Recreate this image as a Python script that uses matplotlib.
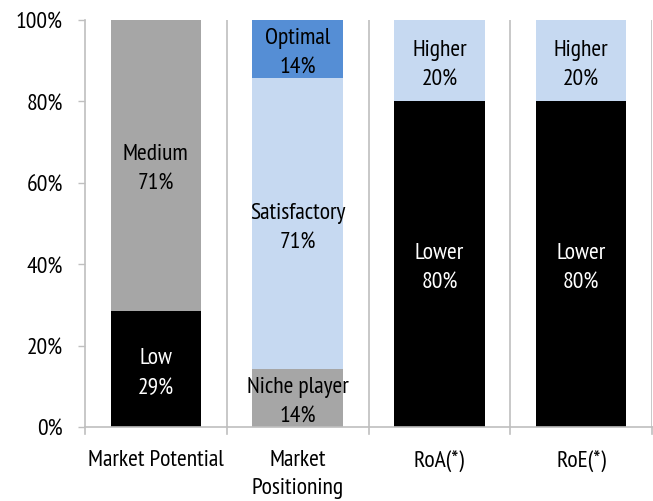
import matplotlib
matplotlib.use("Agg")
import matplotlib.pyplot as plt

plt.rcParams['font.family'] = ["PT Sans Narrow", "DejaVu Sans"]

categories = ["Market Potential", "Market\nPositioning", "RoA(*)", "RoE(*)"]
# segments bottom-to-top per category
seg_labels = [["Low", "Medium"],
              ["Niche player", "Satisfactory", "Optimal"],
              ["Lower", "Higher"],
              ["Lower", "Higher"]]
seg_values = [[28.6, 71.4],
              [14.3, 71.4, 14.3],
              [80, 20],
              [80, 20]]
seg_pct = [["29%", "71%"], ["14%", "71%", "14%"], ["80%", "20%"], ["80%", "20%"]]
colors = {"Low": "#000000", "Medium": "#A6A6A6", "Niche player": "#A6A6A6",
          "Satisfactory": "#C6D9F1", "Optimal": "#558ED5",
          "Lower": "#000000", "Higher": "#C6D9F1"}
text_col = {"Low": "white", "Lower": "white"}

FS = 17
fig = plt.figure(figsize=(6.53, 5.02), dpi=100)
ax = fig.add_axes([85/653, 1-428/502, (652-85)/653, (428-21)/502])

for i, (labs, vals, pcts) in enumerate(zip(seg_labels, seg_values, seg_pct)):
    bottom = 0
    for lab, v, p in zip(labs, vals, pcts):
        ax.bar(i, v, bottom=bottom, width=0.64, color=colors[lab], linewidth=0, zorder=2)
        ax.annotate(f"{lab}\n{p}", (i, bottom + v/2), xytext=(0, -2.5),
                    textcoords="offset points", ha="center", va="center",
                    fontsize=FS, color=text_col.get(lab, "black"),
                    linespacing=1.55, zorder=3)
        bottom += v

ax.set_xlim(-0.5, 3.5)
ax.set_ylim(0, 100)
ax.set_yticks([0, 20, 40, 60, 80, 100])
ax.set_yticklabels([f"{t}%" for t in [0, 20, 40, 60, 80, 100]], fontsize=FS)
ax.set_xticks(range(4))
ax.set_xticklabels(categories, fontsize=FS, linespacing=1.4)
ax.tick_params(axis="x", length=0, pad=16)
ax.tick_params(axis="y", length=5, color="#BFBFBF", width=1, pad=11)
for b in [0.5, 1.5, 2.5, 3.5]:
    ax.axvline(b, color="#BFBFBF", lw=1.2, zorder=1)
    ax.plot([b, b], [0, -1.8], color="#BFBFBF", lw=1.2, clip_on=False)
ax.plot([-0.5, -0.5], [0, -1.8], color="#BFBFBF", lw=1.2, clip_on=False)
for s in ["top", "right"]:
    ax.spines[s].set_visible(False)
for s in ["left", "bottom"]:
    ax.spines[s].set_color("#BFBFBF")
    ax.spines[s].set_linewidth(1.2)

fig.savefig("out.png", dpi=100)
